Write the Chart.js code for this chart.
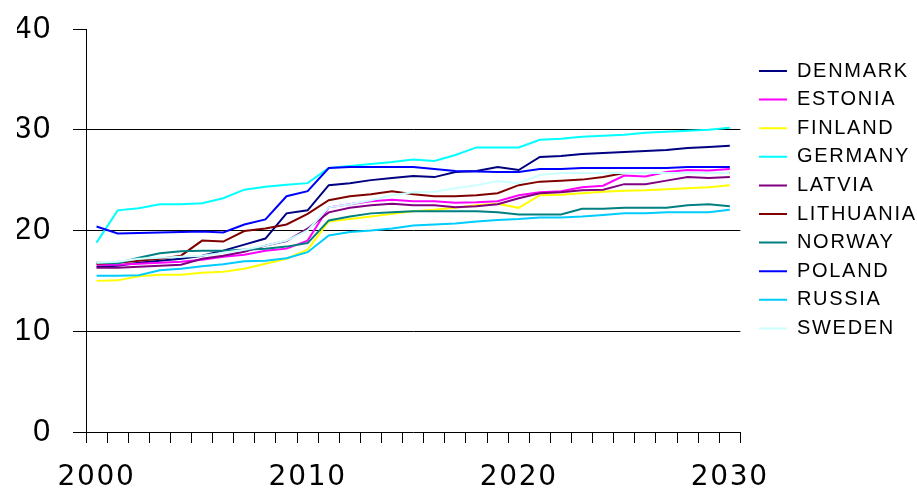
<!DOCTYPE html>
<html><head><meta charset="utf-8">
<script src="https://cdn.jsdelivr.net/npm/chart.js@4/dist/chart.umd.min.js"></script>
<style>html,body{margin:0;padding:0;background:#fff;overflow:hidden}</style>
</head><body>
<canvas id="c" width="917" height="494"></canvas>
<script>
const years = ["2000","2001","2002","2003","2004","2005","2006","2007","2008","2009","2010","2011","2012","2013","2014","2015","2016","2017","2018","2019","2020","2021","2022","2023","2024","2025","2026","2027","2028","2029","2030"];
const xTickLabels = ["2000","2010","2020","2030"];
const yTicks = [0, 10, 20, 30, 40];

const denmark   = [16.4,16.5,16.8,17.0,17.2,17.5,18.0,18.6,19.2,21.7,22.0,24.5,24.7,25.0,25.2,25.4,25.3,25.8,25.9,26.3,26.0,27.3,27.4,27.6,27.7,27.8,27.9,28.0,28.2,28.3,28.4];
const estonia   = [16.6,16.6,16.7,16.8,16.9,17.1,17.4,17.6,18.0,18.2,19.0,22.3,22.6,22.9,23.05,22.9,22.9,22.75,22.8,22.9,23.5,23.8,23.9,24.3,24.45,25.45,25.35,25.8,26.0,25.95,26.1];
const finland   = [15.0,15.05,15.45,15.6,15.6,15.8,15.9,16.2,16.7,17.2,18.1,20.9,21.15,21.4,21.65,21.9,22.05,22.25,22.5,22.65,22.25,23.5,23.55,23.7,23.85,23.95,24.0,24.1,24.2,24.3,24.5];
const germany   = [18.8,22.0,22.2,22.6,22.6,22.7,23.2,24.05,24.35,24.55,24.7,26.2,26.4,26.6,26.8,27.05,26.9,27.5,28.25,28.25,28.25,29.0,29.1,29.3,29.4,29.5,29.7,29.8,29.9,30.0,30.2];
const latvia    = [16.3,16.3,16.4,16.5,16.6,17.2,17.5,17.9,18.5,18.95,20.2,21.8,22.25,22.5,22.65,22.5,22.5,22.3,22.4,22.6,23.2,23.7,23.8,24.0,24.05,24.6,24.6,24.95,25.3,25.2,25.3];
const lithuania = [16.7,16.8,17.0,17.2,17.5,19.0,18.9,19.95,20.2,20.6,21.65,23.0,23.4,23.6,23.9,23.6,23.4,23.4,23.5,23.7,24.5,24.85,24.95,25.05,25.3,25.7,25.7,25.7,25.7,25.7,25.7];
const norway    = [16.8,16.75,17.3,17.75,17.95,18.0,18.0,18.1,18.2,18.4,18.75,21.0,21.4,21.7,21.8,21.9,21.9,21.9,21.9,21.8,21.6,21.6,21.6,22.15,22.15,22.25,22.25,22.25,22.5,22.6,22.4];
const poland    = [20.4,19.7,19.75,19.8,19.85,19.9,19.8,20.6,21.1,23.4,23.9,26.2,26.3,26.3,26.3,26.3,26.1,25.9,25.85,25.8,25.8,26.1,26.1,26.2,26.2,26.2,26.2,26.2,26.3,26.3,26.3];
const russia    = [15.5,15.5,15.55,16.05,16.2,16.45,16.65,16.95,17.0,17.25,17.85,19.5,19.85,20.0,20.2,20.5,20.6,20.7,20.9,21.05,21.15,21.3,21.3,21.4,21.55,21.7,21.7,21.8,21.8,21.8,22.05];
const sweden    = [16.8,16.9,17.2,17.3,17.4,17.5,17.8,18.1,18.5,19.0,20.0,22.3,22.6,23.0,23.5,23.8,23.85,24.2,24.5,24.9,24.7,25.5,25.7,25.7,25.7,25.7,25.7,25.7,25.7,25.7,25.7];

const seriesNames = ["DENMARK","ESTONIA","FINLAND","GERMANY","LATVIA","LITHUANIA","NORWAY","POLAND","RUSSIA","SWEDEN"];
const seriesData = [denmark, estonia, finland, germany, latvia, lithuania, norway, poland, russia, sweden];
const seriesColors = ["#000080","#FF00FF","#FFFF00","#00FFFF","#800080","#800000","#008080","#0000FF","#00CCFF","#CCFFFF"];

const spacingPlugin = {
  id: 'spacing',
  beforeDraw(chart) { chart.ctx.letterSpacing = '1.7px'; }
};

new Chart(document.getElementById('c'), {
  type: 'line',
  data: {
    labels: years,
    datasets: seriesNames.map((name, i) => ({
      label: name,
      data: seriesData[i],
      borderColor: seriesColors[i],
      backgroundColor: seriesColors[i],
      borderWidth: 2,
      pointRadius: 0,
      tension: 0,
      fill: false,
      order: seriesNames.length - i
    }))
  },
  options: {
    responsive: false,
    devicePixelRatio: 1,
    animation: false,
    layout: { padding: { left: 17, top: 29, right: 0, bottom: 0 } },
    plugins: {
      tooltip: { enabled: false },
      legend: {
        position: 'right',
        align: 'start',
        maxWidth: 400,
        title: { display: true, text: ' ', font: { size: 2 }, padding: { top: 21, bottom: 0 } },
        labels: {
          usePointStyle: true,
          pointStyle: 'line',
          pointStyleWidth: 28,
          padding: 8.6,
          color: '#000',
          font: { family: 'Liberation Sans', size: 20 },
          sort: (a, b) => a.datasetIndex - b.datasetIndex,
          generateLabels: (chart) => Chart.defaults.plugins.legend.labels.generateLabels(chart)
            .map(item => Object.assign(item, { text: item.text + ' ' }))
        }
      }
    },
    scales: {
      x: {
        type: 'category',
        offset: true,
        grid: { offset: true, drawOnChartArea: false, tickLength: 11, color: '#000', lineWidth: 1 },
        border: { display: true, color: '#000', width: 1 },
        ticks: {
          autoSkip: false, maxRotation: 0, minRotation: 0,
          padding: 18,
          color: '#000',
          font: { family: 'DejaVu Sans', size: 28 },
          callback: function(v, i) { return xTickLabels.includes(years[i]) ? years[i] : ''; }
        },
        afterFit: (s) => { s.height = 62; s.paddingLeft = 0; s.paddingRight = 0; }
      },
      y: {
        position: 'left',
        min: 0, max: 40,
        afterBuildTicks: (s) => { s.ticks = yTicks.map(v => ({ value: v })); },
        grid: {
          color: (ctx) => (ctx.tick && (ctx.tick.value === 40 || ctx.tick.value === 0)) ? 'rgba(0,0,0,0)' : '#000',
          tickColor: '#000',
          tickLength: 13,
          lineWidth: 1
        },
        border: { display: true, color: '#000', width: 1 },
        ticks: { padding: 21, color: '#000', font: { family: 'Liberation Sans', size: 31 } },
        afterFit: (s) => { s.width = 69; s.paddingTop = 0; s.paddingBottom = 0; }
      },
      yR: {
        position: 'right',
        min: 0, max: 40,
        grid: { display: false },
        border: { display: false },
        ticks: { display: false },
        afterFit: (s) => { s.width = 10; s.paddingTop = 0; s.paddingBottom = 0; }
      }
    }
  },
  plugins: [spacingPlugin]
});
</script>
</body></html>
